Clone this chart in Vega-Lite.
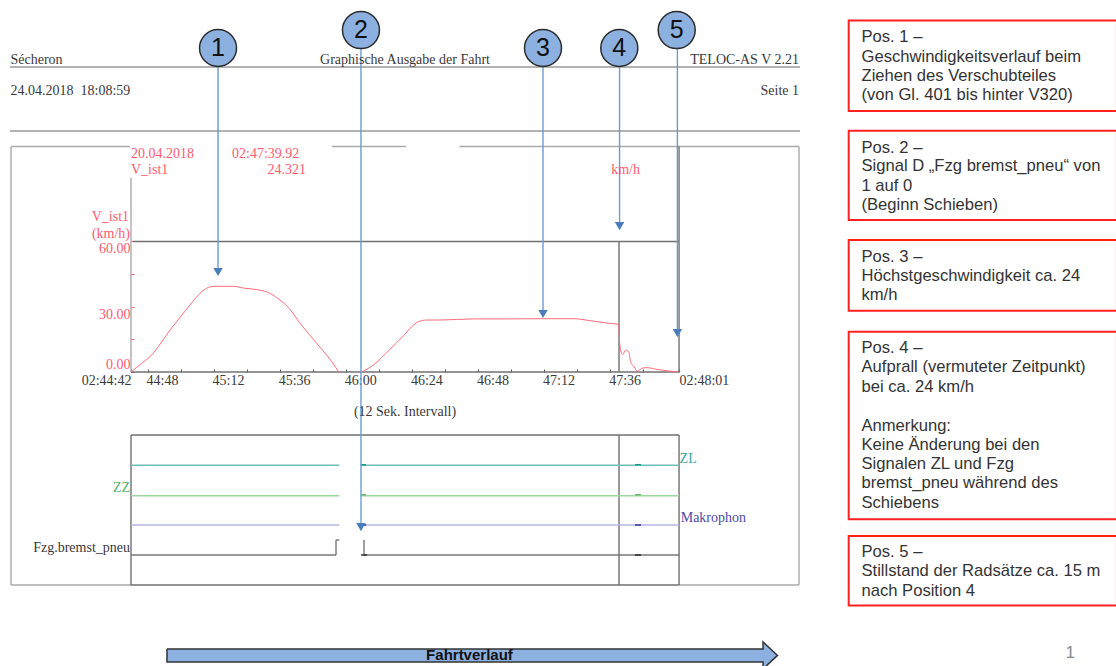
{
"$schema":"https://vega.github.io/schema/vega-lite/v6.json",
"width":1116,"height":666,"padding":0,"autosize":{"type":"none"},
"background":"white",
"config":{"view":{"stroke":null}},
"datasets":{
"speed":[
{"s":1,"t":0,"v":0},{"s":1,"t":3.87,"v":3.98},{"s":1,"t":7.5,"v":7.82},{"s":1,"t":9.92,"v":11.65},{"s":1,"t":14.16,"v":19.3},{"s":1,"t":17.8,"v":25.1},{"s":1,"t":21.4,"v":30.8},{"s":1,"t":25.05,"v":36.2},{"s":1,"t":28.1,"v":38.9},{"s":1,"t":30.5,"v":39.4},{"s":1,"t":37.2,"v":39.4},{"s":1,"t":40.8,"v":38.6},{"s":1,"t":45.6,"v":37.9},{"s":1,"t":49.3,"v":36.8},{"s":1,"t":52.9,"v":34.2},{"s":1,"t":57.1,"v":29.7},{"s":1,"t":61.4,"v":22.4},{"s":1,"t":66.2,"v":15},{"s":1,"t":71,"v":7.8},{"s":1,"t":73.5,"v":3.7},{"s":1,"t":75.4,"v":0},
{"s":2,"t":84.1,"v":0.15},{"s":2,"t":88,"v":3.2},{"s":2,"t":94,"v":10.4},{"s":2,"t":98.9,"v":16.6},{"s":2,"t":101.9,"v":20.8},{"s":2,"t":104.3,"v":23.1},{"s":2,"t":107.4,"v":23.9},{"s":2,"t":112.2,"v":23.9},{"s":2,"t":124.3,"v":24.4},{"s":2,"t":136.4,"v":24.4},{"s":2,"t":148.5,"v":24.5},{"s":2,"t":160.6,"v":24.5},{"s":2,"t":166.7,"v":23.6},{"s":2,"t":172.7,"v":22.5},{"s":2,"t":177.1,"v":21.9},{"s":2,"t":177.3,"v":16.2},{"s":2,"t":177.8,"v":10.1},{"s":2,"t":178.5,"v":8},{"s":2,"t":179.7,"v":10.1},{"s":2,"t":180.7,"v":9.3},{"s":2,"t":181.4,"v":4.8},{"s":2,"t":182.6,"v":2.5},{"s":2,"t":184,"v":0.3},{"s":2,"t":185.4,"v":1.7},{"s":2,"t":187.2,"v":2},{"s":2,"t":190.9,"v":1.2},{"s":2,"t":195.1,"v":0.5},{"s":2,"t":198.7,"v":0}
],
"rules":[
{"k":"page","t":-43.94,"t2":242.92,"v":140.23,"v2":140.23},
{"k":"page","t":-43.94,"t2":242.92,"v":110.8,"v2":110.8},
{"k":"frame","t":-43.57,"t2":-0.36,"v":103.68,"v2":103.68},
{"k":"frame","t":72.99,"t2":99.85,"v":103.68,"v2":103.68},
{"k":"frame","t":119.28,"t2":242.56,"v":103.68,"v2":103.68},
{"k":"frame","t":-43.57,"t2":-43.57,"v":103.68,"v2":-97.93},
{"k":"frame","t":242.56,"t2":242.56,"v":103.68,"v2":-97.93},
{"k":"frame","t":-43.57,"t2":0,"v":-97.93,"v2":-97.93},
{"k":"frame","t":199,"t2":242.56,"v":-97.93,"v2":-97.93},
{"k":"frame","t":0,"t2":0,"v":89.2,"v2":0},
{"k":"plot","t":0,"t2":199,"v":0,"v2":0},
{"k":"plot","t":0.73,"t2":199,"v":60,"v2":60},
{"k":"plot","t":177.2,"t2":177.2,"v":60,"v2":0},
{"k":"plot","t":177.2,"t2":177.2,"v":-28.97,"v2":-97.93},
{"k":"plot","t":199,"t2":199,"v":103.68,"v2":0},
{"k":"plot","t":0,"t2":199,"v":-28.97,"v2":-28.97},
{"k":"plot","t":0,"t2":0,"v":-28.97,"v2":-97.93},
{"k":"plot","t":199,"t2":199,"v":-28.97,"v2":-97.93},
{"k":"plot","t":0,"t2":199,"v":-97.93,"v2":-97.93},
{"k":"ZL","t":0,"t2":75.63,"v":-42.9,"v2":-42.9},
{"k":"ZL","t":83.5,"t2":199,"v":-42.9,"v2":-42.9},
{"k":"ZZ","t":0,"t2":75.63,"v":-56.87,"v2":-56.87},
{"k":"ZZ","t":83.5,"t2":199,"v":-56.87,"v2":-56.87},
{"k":"Makrophon","t":0,"t2":75.63,"v":-70.34,"v2":-70.34},
{"k":"Makrophon","t":83.5,"t2":199,"v":-70.34,"v2":-70.34},
{"k":"Fzg","t":0,"t2":74.44,"v":-84.14,"v2":-84.14},
{"k":"Fzg","t":74.44,"t2":74.44,"v":-84.14,"v2":-77.24},
{"k":"Fzg","t":74.44,"t2":75.63,"v":-77.24,"v2":-77.24},
{"k":"Fzg","t":84.6,"t2":84.6,"v":-77.24,"v2":-84.14},
{"k":"Fzg","t":84.6,"t2":199,"v":-84.14,"v2":-84.14},
{"k":"ZLmark","t":83.5,"t2":85.33,"v":-42.6,"v2":-42.6},
{"k":"ZLmark","t":183,"t2":185.2,"v":-42.6,"v2":-42.6},
{"k":"ZZmark","t":83.5,"t2":85.33,"v":-56.4,"v2":-56.4},
{"k":"ZZmark","t":183,"t2":185.2,"v":-56.4,"v2":-56.4},
{"k":"Makmark","t":83.5,"t2":85.33,"v":-70.34,"v2":-70.34},
{"k":"Makmark","t":183,"t2":185.2,"v":-70.34,"v2":-70.34},
{"k":"Fzgmark","t":83.5,"t2":85.7,"v":-84.14,"v2":-84.14},
{"k":"Fzgmark","t":183,"t2":185.2,"v":-84.14,"v2":-84.14},
{"k":"arrow","t":31.6,"t2":31.6,"v":143.45,"v2":45.98},
{"k":"arrow","t":83.5,"t2":83.5,"v":157.2,"v2":-71.3},
{"k":"arrow","t":149.6,"t2":149.6,"v":141.15,"v2":26.67},
{"k":"arrow","t":177.4,"t2":177.4,"v":140.7,"v2":67.1},
{"k":"arrow","t":198.4,"t2":198.4,"v":149.4,"v2":17.9}
],
"heads":[{"t":31.6,"v":45.98},{"t":83.5,"v":-71.3},{"t":149.6,"v":26.67},{"t":177.4,"v":67.1},{"t":198.4,"v":17.9}],
"callouts":[{"t":31.6,"v":148.97,"n":"1"},{"t":83.5,"v":157.2,"n":"2"},{"t":149.6,"v":148.97,"n":"3"},{"t":177.3,"v":148.97,"n":"4"},{"t":198.15,"v":157.2,"n":"5"}],
"boxes":[
{"t":260.6,"t2":358,"v":161.6,"v2":120},
{"t":260.6,"t2":358,"v":110.9,"v2":69.9},
{"t":260.6,"t2":358,"v":60.7,"v2":28.2},
{"t":260.6,"t2":358,"v":18.5,"v2":-67.7},
{"t":260.6,"t2":358,"v":-75.4,"v2":-107.4}
],
"boxText":[
{"t":265.25,"v":153.9,"x":"Pos. 1 –"},{"t":265.25,"v":145,"x":"Geschwindigkeitsverlauf beim"},{"t":265.25,"v":136.2,"x":"Ziehen des Verschubteiles"},{"t":265.25,"v":127.3,"x":"(von Gl. 401 bis hinter V320)"},
{"t":265.25,"v":103.2,"x":"Pos. 2 –"},{"t":265.25,"v":94.5,"x":"Signal D „Fzg bremst_pneu“ von"},{"t":265.25,"v":85.5,"x":"1 auf 0"},{"t":265.25,"v":76.6,"x":"(Beginn Schieben)"},
{"t":265.25,"v":53,"x":"Pos. 3 –"},{"t":265.25,"v":44,"x":"Höchstgeschwindigkeit ca. 24"},{"t":265.25,"v":35.3,"x":"km/h"},
{"t":265.25,"v":10.9,"x":"Pos. 4 –"},{"t":265.25,"v":2.2,"x":"Aufprall (vermuteter Zeitpunkt)"},{"t":265.25,"v":-6.8,"x":"bei ca. 24 km/h"},{"t":265.25,"v":-24.7,"x":"Anmerkung:"},{"t":265.25,"v":-33.6,"x":"Keine Änderung bei den"},{"t":265.25,"v":-42.4,"x":"Signalen ZL und Fzg"},{"t":265.25,"v":-51.2,"x":"bremst_pneu während des"},{"t":265.25,"v":-60.1,"x":"Schiebens"},
{"t":265.25,"v":-82.6,"x":"Pos. 5 –"},{"t":265.25,"v":-91.5,"x":"Stillstand der Radsätze ca. 15 m"},{"t":265.25,"v":-100.5,"x":"nach Position 4"}
],
"serifLeft":[
{"t":-43.75,"v":143.45,"x":"Sécheron","c":"dark"},
{"t":-43.75,"v":128.97,"x":"24.04.2018\u00a0\u00a018:08:59","c":"dark"},
{"t":0,"v":100.1,"x":"20.04.2018","c":"red"},
{"t":36.67,"v":100.1,"x":"02:47:39.92","c":"red"},
{"t":0,"v":92.9,"x":"V_ist1","c":"red"},
{"t":199.2,"v":-40,"x":"ZL","c":"teal"},
{"t":199.6,"v":-67.3,"x":"Makrophon","c":"purple"}
],
"serifRight":[
{"t":242.56,"v":143.45,"x":"TELOC-AS V 2.21","c":"dark"},
{"t":242.56,"v":128.97,"x":"Seite 1","c":"dark"},
{"t":63.5,"v":92.9,"x":"24.321","c":"red"},
{"t":-0.7,"v":71.1,"x":"V_ist1","c":"red"},
{"t":-0.36,"v":63.3,"x":"(km/h)","c":"red"},
{"t":-0.36,"v":-53.5,"x":"ZZ","c":"green"},
{"t":-0.36,"v":-81.1,"x":"Fzg.bremst_pneu","c":"dark"}
],
"serifCenter":[
{"t":99.5,"v":143.45,"x":"Graphische Ausgabe der Fahrt","c":"dark"},
{"t":179.6,"v":92.9,"x":"km/h","c":"red"},
{"t":99.5,"v":-18.25,"x":"(12 Sek. Intervall)","c":"dark"}
],
"direction":[
{"i":1,"t":13.07,"v":-127.4},{"i":2,"t":229.5,"v":-127.4},{"i":3,"t":229.5,"v":-124.1},{"i":4,"t":234.75,"v":-130.3},{"i":5,"t":229.5,"v":-136.5},{"i":6,"t":229.5,"v":-133.3},{"i":7,"t":13.07,"v":-133.3},{"i":8,"t":13.07,"v":-127.4}
]
},
"encoding":{
"x":{"field":"t","type":"quantitative","scale":{"domain":[-47.567,357.66],"nice":false,"zero":false},
 "axis":{"orient":"bottom","offset":-294,"title":null,"grid":false,"domain":false,"values":[0,6,18,30,42,54,66,78,90,102,114,126,138,150,162,174,186,199],
 "labelExpr":"({'0':'02:44:42','6':'44:48','30':'45:12','54':'45:36','78':'46:00','102':'46:24','126':'46:48','150':'47:12','174':'47:36','199':'02:48:01'})[datum.value] || ''",
 "labelAlign":{"condition":{"test":"datum.value==0","value":"right"},"value":"left"},
 "labelOffset":{"condition":{"test":"datum.value==0||datum.value==199","value":0},"value":-1.5},
 "labelFont":"Liberation Serif","labelFontSize":14,"labelColor":"#3a3a3a","labelPadding":4,"labelOverlap":false,"labelFlush":false,"labelBound":false,"tickColor":"#555555","tickSize":-3,"tickWidth":1}},
"y":{"field":"v","type":"quantitative","scale":{"domain":[-135.172,171.034],"nice":false,"zero":false},
 "axis":{"orient":"left","offset":-131,"title":null,"grid":false,"domain":false,"values":[0,15,30,45,60],
 "labelExpr":"datum.value%30==0?format(datum.value,'.2f'):''",
 "labelOffset":{"condition":{"test":"datum.value==0","value":-8},"value":7.5},
 "labelFont":"Liberation Serif","labelFontSize":14,"labelColor":"#ff5a6e","labelPadding":4,"labelOverlap":false,"labelFlush":false,"labelBound":false,"tickColor":"#ff5a6e","tickSize":-3,"tickWidth":1}}
},
"layer":[
{"data":{"name":"rules"},"mark":{"type":"rule"},
 "encoding":{"x2":{"field":"t2"},"y2":{"field":"v2"},
 "stroke":{"field":"k","type":"nominal","legend":null,"scale":{"domain":["page","frame","plot","ZL","ZZ","Makrophon","Fzg","ZLmark","ZZmark","Makmark","Fzgmark","arrow"],"range":["#9a9a9a","#aaaaaa","#707070","#6fbdb6","#9fd6a0","#b4b4e2","#777777","#0f9a90","#5fb56a","#2a2a9e","#222222","#6c9bd2"]}},
 "strokeWidth":{"field":"k","type":"nominal","legend":null,"scale":{"domain":["page","frame","plot","ZL","ZZ","Makrophon","Fzg","ZLmark","ZZmark","Makmark","Fzgmark","arrow"],"range":[1.4,1.4,1,1,1.5,2,1.2,2,2,2,2,2.2]}}}},
{"data":{"name":"speed"},"mark":{"type":"line","stroke":"#ff6b78","strokeWidth":1,"interpolate":"monotone"},"encoding":{"detail":{"field":"s"},"order":{"field":"t"}}},
{"data":{"name":"heads"},"mark":{"type":"point","shape":"triangle-down","filled":true,"fill":"#4a7ebb","opacity":1,"size":90,"stroke":null}},
{"data":{"name":"callouts"},"mark":{"type":"point","shape":"circle","filled":true,"fill":"#8cb0df","opacity":1,"size":1369,"stroke":"#2b2b2b","strokeWidth":1.5}},
{"data":{"name":"callouts"},"mark":{"type":"text","font":"Liberation Sans","fontSize":25,"fill":"#111111","baseline":"middle","align":"center"},"encoding":{"text":{"field":"n"}}},
{"data":{"name":"boxes"},"mark":{"type":"rect","fill":"white","stroke":"#ff2020","strokeWidth":2},"encoding":{"x2":{"field":"t2"},"y2":{"field":"v2"}}},
{"data":{"name":"boxText"},"mark":{"type":"text","font":"Liberation Sans","fontSize":16.6,"fill":"#333333","align":"left","baseline":"middle"},"encoding":{"text":{"field":"x"}}},
{"data":{"name":"serifLeft"},"mark":{"type":"text","font":"Liberation Serif","fontSize":14,"align":"left","baseline":"middle"},"encoding":{"text":{"field":"x"},"color":{"field":"c","type":"nominal","legend":null,"scale":{"domain":["dark","red","green","teal","purple"],"range":["#3a3a3a","#ff5a6e","#55b56a","#3aa79f","#4a4aa8"]}}}},
{"data":{"name":"serifRight"},"mark":{"type":"text","font":"Liberation Serif","fontSize":14,"align":"right","baseline":"middle"},"encoding":{"text":{"field":"x"},"color":{"field":"c","type":"nominal","legend":null,"scale":{"domain":["dark","red","green","teal","purple"],"range":["#3a3a3a","#ff5a6e","#55b56a","#3aa79f","#4a4aa8"]}}}},
{"data":{"name":"serifCenter"},"mark":{"type":"text","font":"Liberation Serif","fontSize":14,"align":"center","baseline":"middle"},"encoding":{"text":{"field":"x"},"color":{"field":"c","type":"nominal","legend":null,"scale":{"domain":["dark","red","green","teal","purple"],"range":["#3a3a3a","#ff5a6e","#55b56a","#3aa79f","#4a4aa8"]}}}},
{"data":{"name":"direction"},"mark":{"type":"line","fill":"#8cb0df","stroke":"#333333","strokeWidth":1.5},"encoding":{"order":{"field":"i"}}},
{"data":{"values":[{"t":122.9,"v":-130.25,"x":"Fahrtverlauf"}]},"mark":{"type":"text","font":"Liberation Sans","fontWeight":"bold","fontSize":15,"fill":"#111111","align":"center","baseline":"middle"},"encoding":{"text":{"field":"x"}}},
{"data":{"values":[{"t":341,"v":-129.3,"x":"1"}]},"mark":{"type":"text","font":"Liberation Sans","fontSize":17,"fill":"#8a8a8a","align":"center","baseline":"middle"},"encoding":{"text":{"field":"x"}}}
]
}
